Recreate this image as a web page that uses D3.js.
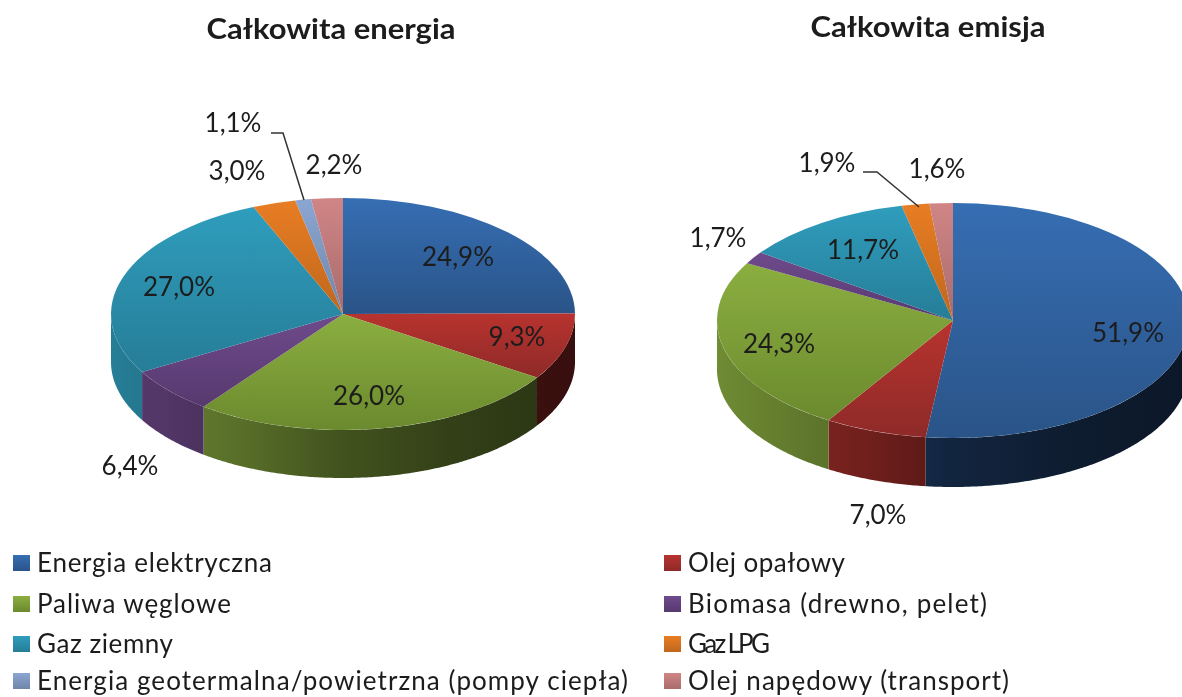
<!DOCTYPE html>
<html><head><meta charset="utf-8">
<script src="https://cdn.jsdelivr.net/npm/d3@7/dist/d3.min.js"></script>
<style>html,body{margin:0;padding:0;background:#fff;overflow:hidden}svg{display:block;filter:blur(.5px)}text{font-family:Lato,"Noto Sans",sans-serif;fill:#1c1c1c}</style>
</head><body><svg id="c" width="1182" height="697"></svg>
<script>
// ---- data ----
const categories = ["Energia elektryczna","Olej opałowy","Paliwa węglowe","Biomasa (drewno, pelet)","Gaz ziemny","Gaz LPG","Energia geotermalna/powietrzna (pompy ciepła)","Olej napędowy (transport)"];
const energiaValues = [24.9,9.3,26.0,6.4,27.0,3.0,1.1,2.2];
const emisjaValues  = [51.9,7.0,24.3,1.7,11.7,1.9,0,1.6];
const titles = ["Całkowita energia","Całkowita emisja"];

// ---- styles ----
const topLight = ["#366eb3","#b8332f","#8bae40","#6f4a8c","#2f9dbd","#e87d23","#8ba6d2","#d08586"];
const topDark  = ["#2a5488","#8e2a28","#6b8a2e","#57396e","#267d97","#bf671d","#6f86aa","#a86b6c"];
const sideBase = ["#274f86","#b8332f","#8bae40","#6f4a8c","#2f9dbd","#e87d23","#8ba6d2","#d08586"];
const sideShade = [[0,.8],[.3,.62],[.5,.47],[.75,.36],[1,.3]];

// ---- layout ----
const pies = [
 {cx:343,cy:314,rx:232,ry:116,depth:48,values:energiaValues,title:{x:331,y:39,w:249},
  labels:[[458,257],[517,337],[369,396],[130,466],[179,287],[237,171],[233,123],[334,165]],
  leader:{series:6,pts:[[271,133],[283,133],[304,200]]}},
 {cx:953,cy:320.5,rx:236,ry:117.5,depth:49,values:emisjaValues,title:{x:928,y:37,w:235},
  labels:[[1128,333],[878,515],[779,344],[718,238],[863,250],[827,163],null,[937,169]],
  leader:{series:5,pts:[[863,172],[877,172],[919,207]]}}
];
const legendRows = [563,604,644,681];
const legendCols = [{sw:13,tx:37},{sw:664,tx:688}];
const legendWidths = [235,157,194,299,136,82,591,321];
const fmt = v => d3.format(".1f")(v).replace(".",",")+"%";

const svg = d3.select("#c"), defs = svg.append("defs");
categories.forEach((c,i)=>{
  const g = defs.append("linearGradient").attr("id","top"+i).attr("x1",0).attr("y1",0).attr("x2",0).attr("y2",1);
  g.append("stop").attr("offset",0).attr("stop-color",topLight[i]);
  g.append("stop").attr("offset",1).attr("stop-color",topDark[i]);
});
const pieGen = d3.pie().sort(null).value(d=>d);

pies.forEach((p,pi)=>{
  const slices = pieGen(p.values);
  const px = d3.scaleLinear().domain([-1,1]).range([p.cx-p.rx,p.cx+p.rx]);
  const py = d3.scaleLinear().domain([-1,1]).range([p.cy-p.ry,p.cy+p.ry]);
  const pt = (a,dz=0)=>[px(Math.sin(a)),py(-Math.cos(a))+dz];
  const line = d3.line();

  // side-wall gradients
  categories.forEach((c,i)=>{
    const g = defs.append("linearGradient").attr("id",`side${pi}_${i}`).attr("gradientUnits","userSpaceOnUse")
      .attr("x1",px(-1)).attr("x2",px(1)).attr("y1",0).attr("y2",0);
    sideShade.forEach(([o,f])=>g.append("stop").attr("offset",o)
      .attr("stop-color",d3.interpolateRgb("#000",sideBase[i])(f)));
  });

  // side walls (only the front half is visible)
  slices.forEach((s,i)=>{
    const a0=Math.max(s.startAngle,Math.PI/2), a1=Math.min(s.endAngle,Math.PI*1.5);
    if(a1<=a0||s.value===0) return;
    const as=d3.range(a0,a1,0.01).concat([a1]);
    const poly=as.map(a=>pt(a)).concat(as.slice().reverse().map(a=>pt(a,p.depth)));
    svg.append("path").attr("d",line(poly)+"Z").attr("fill",`url(#side${pi}_${i})`);
  });

  // top faces
  const arc=d3.arc().innerRadius(0).outerRadius(p.rx);
  const top=svg.append("g").attr("transform",`translate(${p.cx},${p.cy}) scale(1,${p.ry/p.rx})`);
  top.selectAll("path").data(slices.filter(s=>s.value>0)).join("path")
    .attr("d",arc).attr("fill",d=>`url(#top${d.index})`);

  // leader
  svg.append("path").attr("d",line(p.leader.pts)).attr("fill","none").attr("stroke","#333").attr("stroke-width",1.5);

  // value labels
  p.values.forEach((v,i)=>{
    if(!v||!p.labels[i]) return;
    svg.append("text").attr("x",p.labels[i][0]).attr("y",p.labels[i][1]).attr("dy","0.35em")
      .attr("text-anchor","middle").attr("font-size",26).text(fmt(v));
  });

  // title
  svg.append("text").attr("x",p.title.x).attr("y",p.title.y).attr("text-anchor","middle")
    .attr("font-size",28).attr("font-weight",700).attr("textLength",p.title.w)
    .attr("lengthAdjust","spacingAndGlyphs").text(titles[pi]);
});

// legend
categories.forEach((c,i)=>{
  const col=legendCols[i%2], y=legendRows[Math.floor(i/2)];
  const g=defs.append("linearGradient").attr("id","leg"+i).attr("x1",0).attr("y1",0).attr("x2",0).attr("y2",1);
  g.append("stop").attr("offset",0).attr("stop-color",topLight[i]);
  g.append("stop").attr("offset",1).attr("stop-color",topDark[i]);
  svg.append("rect").attr("x",col.sw).attr("y",y-8).attr("width",17).attr("height",16).attr("fill",`url(#leg${i})`);
  svg.append("text").attr("x",col.tx).attr("y",y).attr("dy","0.35em").attr("font-size",26)
    .attr("textLength",legendWidths[i]).attr("lengthAdjust","spacing").text(c);
});
</script></body></html>
